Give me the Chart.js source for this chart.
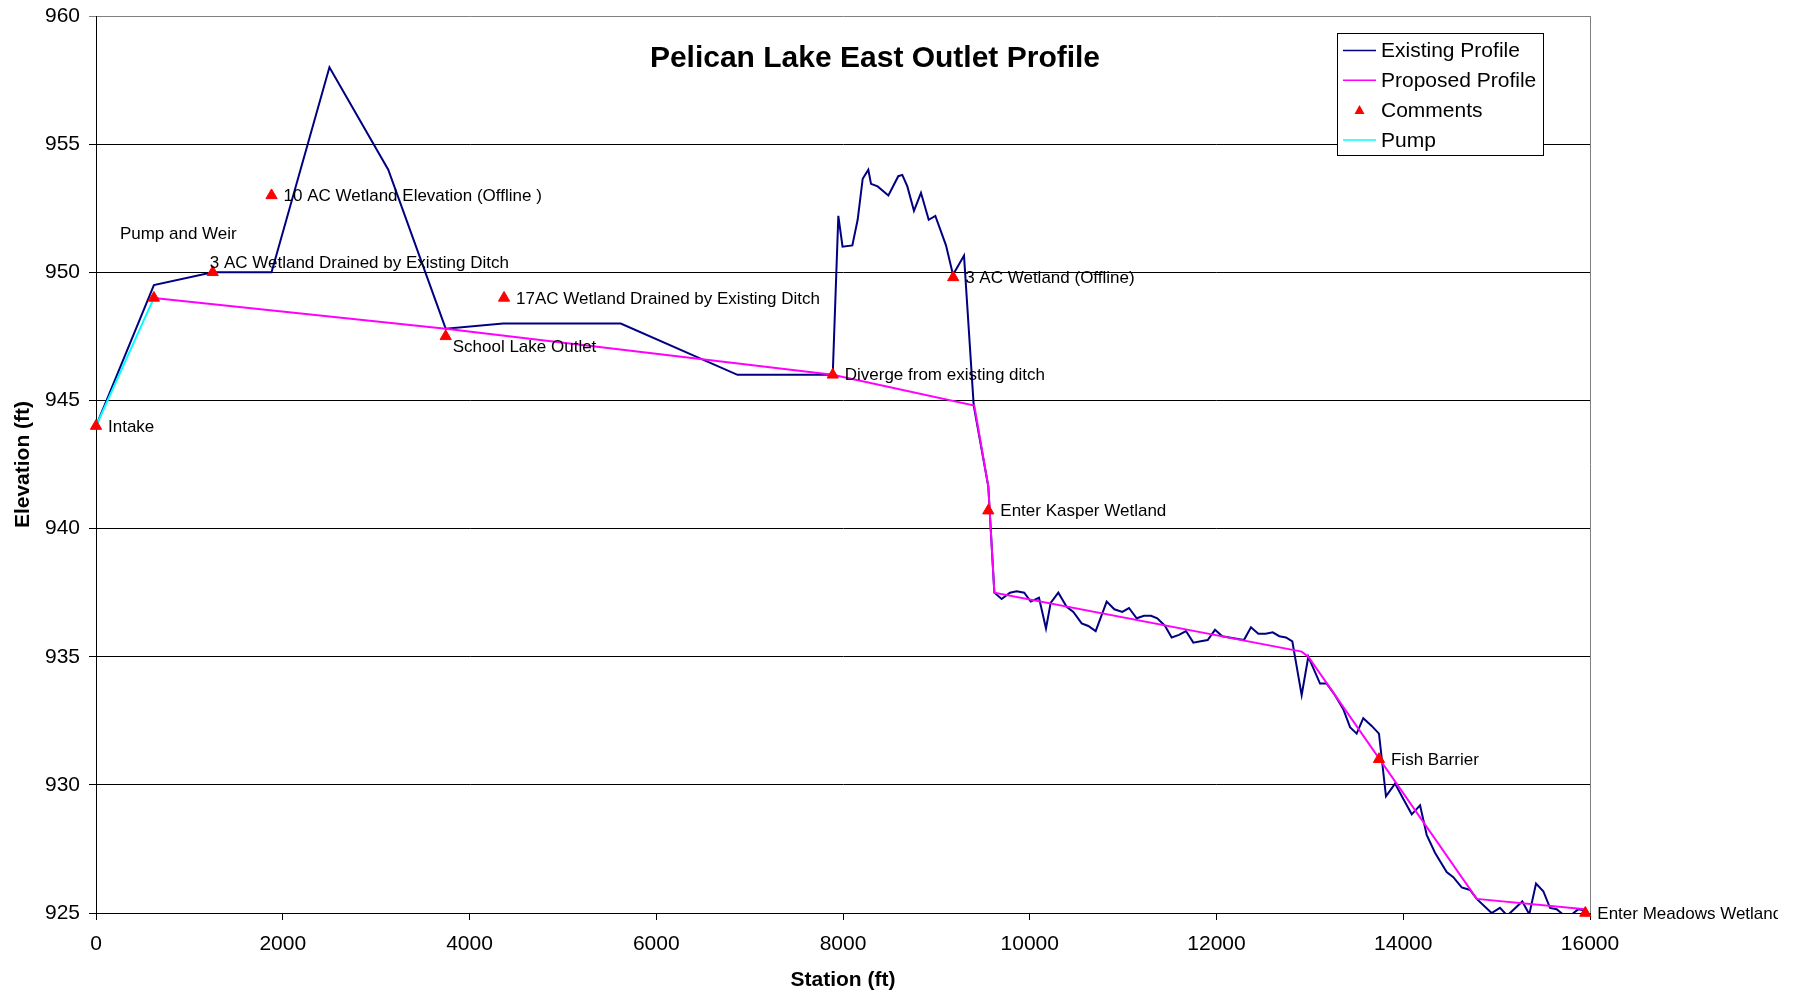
<!DOCTYPE html>
<html>
<head>
<meta charset="utf-8">
<title>Pelican Lake East Outlet Profile</title>
<script src="https://cdn.jsdelivr.net/npm/chart.js@4.4.1/dist/chart.umd.min.js"></script>
<style>
  html, body { margin: 0; padding: 0; background: #fff; }
  #wrap { width: 1802px; height: 995px; position: relative; }
</style>
</head>
<body>
<div id="wrap"><canvas id="myChart"></canvas></div>
<script>
// station (ft) / elevation (ft)
var existingStation = [
    0, 620, 1250, 1880, 2500, 3130, 3745, 4360, 5620, 6870,
    7890, 7950, 7995, 8100, 8157, 8211, 8271, 8300, 8371, 8486,
    8592, 8635, 8689, 8760, 8835, 8918, 8989, 9103, 9178, 9296,
    9400, 9556, 9621, 9699, 9788, 9860, 9941, 10010, 10099, 10174,
    10224, 10306, 10395, 10467, 10556, 10627, 10706, 10824, 10906, 10991,
    11063, 11145, 11224, 11299, 11366, 11449, 11520, 11598, 11673, 11752,
    11831, 11906, 11984, 12062, 12137, 12216, 12294, 12369, 12448, 12527,
    12602, 12673, 12744, 12812, 12912, 12983, 13109, 13180, 13269, 13358,
    13430, 13501, 13572, 13662, 13740, 13815, 13912, 14001, 14091, 14180,
    14251, 14340, 14465, 14536, 14626, 14715, 14787, 14946, 15036, 15114,
    15275, 15350, 15422, 15500, 15572, 15643, 15757, 15875, 15950
];
var existingElev = [
    944.0, 949.5, 950.0, 950.0, 958.0, 954.0, 947.8, 948.0, 948.0, 946.0,
    946.0, 952.2, 951.0, 951.05, 952.05, 953.65, 954.0, 953.45, 953.35, 953.0,
    953.75, 953.8, 953.35, 952.4, 953.1, 952.05, 952.2, 951.05, 949.9, 950.65,
    944.8, 941.65, 937.5, 937.25, 937.5, 937.55, 937.5, 937.15, 937.3, 936.1,
    937.1, 937.5, 936.95, 936.75, 936.3, 936.2, 936.0, 937.15, 936.85, 936.75,
    936.9, 936.5, 936.6, 936.6, 936.5, 936.2, 935.75, 935.85, 936.0, 935.55,
    935.6, 935.65, 936.05, 935.8, 935.75, 935.7, 935.65, 936.15, 935.9, 935.9,
    935.95, 935.8, 935.75, 935.6, 933.5, 935.0, 933.95, 933.95, 933.5, 932.95,
    932.25, 932.0, 932.6, 932.3, 932.0, 929.55, 930.05, 929.45, 928.85, 929.2,
    928.05, 927.35, 926.6, 926.4, 926.0, 925.9, 925.55, 925.0, 925.2, 924.9,
    925.45, 924.95, 926.15, 925.85, 925.2, 925.15, 924.8, 925.15, 925.1
];

var proposedStation = [620, 3745, 7890, 9406, 9556, 9621, 12912, 12983, 14787, 15950];
var proposedElev = [949.0, 947.8, 946.0, 944.8, 941.65, 937.5, 935.2, 935.0, 925.55, 925.15];

var pumpStation = [0, 620];
var pumpElev = [944.0, 949.0];

var commentStation = [0, 620, 1250, 1880, 3745, 4370, 7890, 9180, 9556, 13740, 15950];
var commentElev = [944.0, 949.0, 950.0, 953.0, 947.5, 949.0, 946.0, 949.8, 940.7, 931.0, 925.0];
var commentText = [
    'Intake',
    'Pump and Weir',
    '3 AC Wetland Drained by Existing Ditch',
    '10 AC Wetland Elevation (Offline )',
    'School Lake Outlet',
    '17AC Wetland Drained by Existing Ditch',
    'Diverge from existing ditch',
    '3 AC Wetland (Offline)',
    'Enter Kasper Wetland',
    'Fish Barrier',
    'Enter Meadows Wetland'
];

var xTicks = [0, 2000, 4000, 6000, 8000, 10000, 12000, 14000, 16000];
var yTicks = [925, 930, 935, 940, 945, 950, 955, 960];

var FONT = "'Liberation Sans', Arial, sans-serif";
Chart.defaults.font.family = FONT;
Chart.defaults.color = '#000';

function pairs(xs, ys) {
    return xs.map(function (x, i) { return { x: x, y: ys[i] }; });
}

// label nudges (pixels) for the comment text, default is to the right of the marker
var labelNudge = { 1: [-34, -65], 2: [-3, -10], 4: [7, 10] };

var commentLabels = {
    id: 'commentLabels',
    afterDatasetsDraw: function (chart) {
        var ctx = chart.ctx;
        var meta = chart.getDatasetMeta(2);
        ctx.save();
        ctx.beginPath();
        ctx.rect(0, 0, 1778, 995);
        ctx.clip();
        ctx.font = '17px ' + FONT;
        ctx.fillStyle = '#000';
        ctx.textAlign = 'left';
        ctx.textBaseline = 'middle';
        meta.data.forEach(function (pt, i) {
            var n = labelNudge[i] || [12, 0];
            ctx.fillText(commentText[i], pt.x + n[0], pt.y + n[1] + 1);
        });
        ctx.restore();
    }
};

var frame = {
    id: 'frame',
    afterDraw: function (chart) {
        var ctx = chart.ctx, a = chart.chartArea;
        ctx.save();
        // plot area border on the right
        ctx.strokeStyle = '#808080';
        ctx.lineWidth = 1;
        ctx.beginPath();
        ctx.moveTo(Math.round(a.right) + 0.5, a.top);
        ctx.lineTo(Math.round(a.right) + 0.5, a.bottom);
        ctx.stroke();

        // title
        ctx.font = 'bold 30px ' + FONT;
        ctx.fillStyle = '#000';
        ctx.textAlign = 'center';
        ctx.textBaseline = 'middle';
        ctx.fillText('Pelican Lake East Outlet Profile', a.left + 0.5214 * (a.right - a.left), 59);

        // legend box
        var bx = 1337.5, by = 33.5, bw = 206, bh = 122;
        ctx.fillStyle = '#fff';
        ctx.fillRect(bx, by, bw, bh);
        ctx.strokeStyle = '#000';
        ctx.strokeRect(bx, by, bw, bh);
        ctx.font = '21px ' + FONT;
        ctx.textAlign = 'left';
        chart.data.datasets.forEach(function (ds, i) {
            var y = 50.5 + i * 29.8;
            if (ds.showLine) {
                ctx.strokeStyle = ds.borderColor;
                ctx.lineWidth = 1.5;
                ctx.beginPath();
                ctx.moveTo(1343, y);
                ctx.lineTo(1376, y);
                ctx.stroke();
            } else {
                ctx.fillStyle = ds.backgroundColor;
                ctx.beginPath();
                ctx.moveTo(1359.5, y - 5);
                ctx.lineTo(1364.5, y + 4);
                ctx.lineTo(1354.5, y + 4);
                ctx.closePath();
                ctx.fill();
            }
            ctx.fillStyle = '#000';
            ctx.fillText(ds.label, 1381, y + 1);
        });
        ctx.restore();
    }
};

var ctx = document.getElementById('myChart').getContext('2d');
var myChart = new Chart(ctx, {
    type: 'scatter',
    data: {
        datasets: [
            {
                label: 'Existing Profile',
                data: pairs(existingStation, existingElev),
                showLine: true,
                borderColor: '#000080',
                backgroundColor: '#000080',
                borderWidth: 2,
                pointRadius: 0,
                order: 4
            },
            {
                label: 'Proposed Profile',
                data: pairs(proposedStation, proposedElev),
                showLine: true,
                borderColor: '#FF00FF',
                backgroundColor: '#FF00FF',
                borderWidth: 2,
                pointRadius: 0,
                order: 3
            },
            {
                label: 'Comments',
                data: pairs(commentStation, commentElev),
                showLine: false,
                pointStyle: 'triangle',
                pointRadius: 6.5,
                backgroundColor: '#FF0000',
                borderColor: '#FF0000',
                borderWidth: 1,
                clip: false,
                order: 1
            },
            {
                label: 'Pump',
                data: pairs(pumpStation, pumpElev),
                showLine: true,
                borderColor: '#00FFFF',
                backgroundColor: '#00FFFF',
                borderWidth: 2,
                pointRadius: 0,
                order: 2
            }
        ]
    },
    options: {
        responsive: true,
        maintainAspectRatio: false,
        animation: false,
        events: [],
        layout: {
            padding: { left: 0, right: 212, top: 16, bottom: 0 }
        },
        plugins: {
            legend: { display: false },
            title: { display: false },
            tooltip: { enabled: false }
        },
        scales: {
            x: {
                type: 'linear',
                min: 0,
                max: 16000,
                afterBuildTicks: function (axis) {
                    axis.ticks = xTicks.map(function (v) { return { value: v }; });
                },
                afterFit: function (scale) {
                    scale.height = 82;
                    scale.paddingLeft = 0;
                    scale.paddingRight = 0;
                },
                border: { color: '#000', width: 1 },
                grid: { drawOnChartArea: false, tickLength: 7, color: '#000' },
                ticks: {
                    padding: 12,
                    font: { size: 21 },
                    color: '#000',
                    maxRotation: 0,
                    callback: function (v) { return String(v); }
                },
                title: {
                    display: true,
                    text: 'Station (ft)',
                    font: { size: 21, weight: 'bold' },
                    color: '#000',
                    padding: { top: 0, bottom: 2 }
                }
            },
            y: {
                min: 925,
                max: 960,
                afterBuildTicks: function (axis) {
                    axis.ticks = yTicks.map(function (v) { return { value: v }; });
                },
                afterFit: function (scale) {
                    scale.width = 96;
                    scale.paddingTop = 0;
                    scale.paddingBottom = 0;
                },
                border: { color: '#000', width: 1 },
                grid: {
                    tickLength: 7,
                    color: function (c) { return c.tick && c.tick.value === 960 ? '#808080' : '#000'; }
                },
                ticks: {
                    padding: 9,
                    font: { size: 21 },
                    color: '#000',
                    callback: function (v) { return String(v); }
                },
                title: {
                    display: true,
                    text: 'Elevation (ft)',
                    font: { size: 21, weight: 'bold' },
                    color: '#000',
                    padding: { top: 11, bottom: 0 }
                }
            }
        }
    },
    plugins: [commentLabels, frame]
});
</script>
</body>
</html>
